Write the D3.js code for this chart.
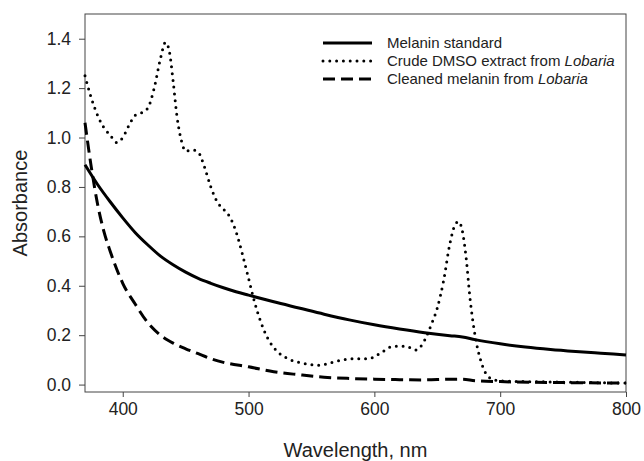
<!DOCTYPE html>
<html>
<head>
<meta charset="utf-8">
<script src="https://cdnjs.cloudflare.com/ajax/libs/d3/7.8.5/d3.min.js"></script>
<style>
body { margin: 0; background: #fff; }
text { font-family: "Liberation Sans", Arial, sans-serif; fill: #222; }
</style>
</head>
<body>
<script>
//Data (wavelength in nm, absorbance)
var standardWl = [370,380,390,400,410,420,430,440,450,460,470,480,490,500,520,540,560,580,600,620,640,660,670,680,700,720,740,760,780,800];
var standardAbs = [0.89,0.81,0.74,0.675,0.615,0.565,0.52,0.485,0.455,0.43,0.41,0.392,0.376,0.362,0.335,0.31,0.285,0.262,0.242,0.225,0.21,0.198,0.193,0.182,0.165,0.152,0.142,0.134,0.127,0.12];

var crudeWl = [370,375,380,385,390,395,400,405,410,415,420,425,430,434,437,440,443,447,450,455,460,465,470,475,480,485,490,495,500,505,510,515,520,530,540,550,557,565,575,585,595,605,615,625,633,640,645,650,655,660,664,667,670,673,676,680,685,690,695,700,750,800];
var crudeAbs = [1.25,1.16,1.09,1.04,1.01,0.98,1.00,1.05,1.09,1.10,1.12,1.20,1.32,1.385,1.35,1.23,1.09,0.98,0.945,0.95,0.94,0.88,0.80,0.74,0.71,0.68,0.62,0.53,0.43,0.33,0.25,0.19,0.15,0.108,0.09,0.08,0.078,0.088,0.10,0.105,0.104,0.128,0.155,0.155,0.14,0.18,0.24,0.31,0.42,0.57,0.645,0.66,0.62,0.51,0.35,0.20,0.09,0.035,0.02,0.015,0.01,0.006];

var cleanedWl = [370,375,380,385,390,395,400,410,420,430,440,450,460,470,480,500,520,540,560,580,600,620,640,660,670,680,700,750,800];
var cleanedAbs = [1.06,0.88,0.73,0.62,0.54,0.47,0.41,0.325,0.25,0.20,0.168,0.145,0.125,0.105,0.09,0.072,0.052,0.04,0.03,0.025,0.022,0.02,0.019,0.022,0.022,0.016,0.012,0.008,0.006];

var seriesNames = ["Melanin standard","Crude DMSO extract from ","Cleaned melanin from "];
var italicPart = ["","Lobaria","Lobaria"];
var dashes = ["none","0,6.8","12,6"];
var xTicks = [400,500,600,700,800];
var yTicks = [0,0.2,0.4,0.6,0.8,1.0,1.2,1.4];

//SVG size and plot area
var width = 644, height = 461;
var plot = {left: 85, right: 626, top: 14, bottom: 392};

var svg = d3.select("body").append("svg")
    .attr("width",width)
    .attr("height",height);

var x = d3.scaleLinear().domain([370,800]).range([plot.left,plot.right]);
var y = d3.scaleLinear().domain([-0.03,1.5]).range([plot.bottom,plot.top]);

var series = [
    d3.zip(standardWl,standardAbs),
    d3.zip(crudeWl,crudeAbs),
    d3.zip(cleanedWl,cleanedAbs)
];

var line = d3.line()
    .x(function(d){return x(d[0]);})
    .y(function(d){return y(d[1]);})
    .curve(d3.curveMonotoneX);

//Frame around the plot
svg.append("rect")
    .attr("x",plot.left)
    .attr("y",plot.top)
    .attr("width",plot.right-plot.left)
    .attr("height",plot.bottom-plot.top)
    .attr("fill","none")
    .attr("stroke","#444")
    .attr("stroke-width",1);

//Axes
var xAxis = svg.append("g")
    .attr("transform","translate(0,"+plot.bottom+")")
    .call(d3.axisBottom(x).tickValues(xTicks).tickSize(5).tickPadding(6).tickFormat(d3.format("d")));
var yAxis = svg.append("g")
    .attr("transform","translate("+plot.left+",0)")
    .call(d3.axisLeft(y).tickValues(yTicks).tickSize(6).tickPadding(8).tickFormat(d3.format(".1f")));

[xAxis,yAxis].forEach(function(ax){
    ax.select(".domain").remove();
    ax.selectAll("line").attr("stroke","#444");
    ax.selectAll("text")
        .attr("font-size",17.5)
        .attr("fill","#222")
        .style("font-family","'Liberation Sans', Arial, sans-serif");
});

//Curves
svg.append("g").selectAll("path")
    .data(series)
    .enter()
    .append("path")
    .attr("d",line)
    .attr("fill","none")
    .attr("stroke","#000")
    .attr("stroke-width",function(d,i){return i==1 ? 3 : 3;})
    .attr("stroke-linecap",function(d,i){return i==1 ? "round" : "butt";})
    .attr("stroke-dasharray",function(d,i){return dashes[i];});

//Axis titles
svg.append("text")
    .attr("x",(plot.left+plot.right)/2)
    .attr("y",457)
    .attr("text-anchor","middle")
    .attr("font-size",20)
    .text("Wavelength, nm");

svg.append("text")
    .attr("transform","translate(27,"+((plot.top+plot.bottom)/2)+") rotate(-90)")
    .attr("text-anchor","middle")
    .attr("font-size",20)
    .text("Absorbance");

//Legend
var legend = svg.append("g")
    .attr("transform","translate(323,43)");

var rows = legend.selectAll("g")
    .data(seriesNames)
    .enter()
    .append("g")
    .attr("transform",function(d,i){return "translate(0,"+(i*18)+")";});

rows.append("line")
    .attr("x1",0)
    .attr("x2",49)
    .attr("stroke","#000")
    .attr("stroke-width",3)
    .attr("stroke-linecap",function(d,i){return i==1 ? "round" : "butt";})
    .attr("stroke-dasharray",function(d,i){return dashes[i];});

var labels = rows.append("text")
    .attr("x",64)
    .attr("y",5)
    .attr("font-size",15);
labels.append("tspan").text(function(d){return d;});
labels.append("tspan")
    .attr("font-style","italic")
    .text(function(d,i){return italicPart[i];});
</script>
</body>
</html>
